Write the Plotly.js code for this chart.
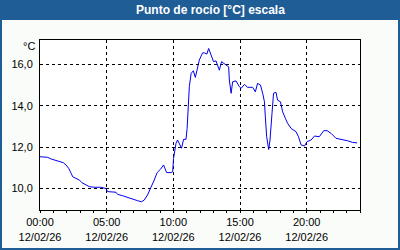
<!DOCTYPE html>
<html><head><meta charset="utf-8">
<script src="https://cdn.plot.ly/plotly-3.0.1.min.js"></script>
<style>html,body{margin:0;padding:0;background:#fafcfa;}#chart{width:400px;height:250px;}</style>
</head><body><div id="chart"></div>
<script>
const day = '2026-02-12';
const times = ['00:00','00:34','00:50','01:04','01:27','01:45','01:57','02:09','02:20','02:27','02:42','02:57','03:09','03:27','03:42','04:04','04:34','04:57','05:04','05:42','05:49','06:12','06:34','06:57','07:19','07:37','07:49','08:04','08:19','08:34','08:47','09:02','09:16','09:30','09:49','09:57','10:01','10:12','10:19','10:27','10:37','10:46','10:57','11:02','11:07','11:12','11:20','11:30','11:39','11:49','11:57','12:07','12:12','12:19','12:31','12:39','12:49','13:01','13:12','13:19','13:27','13:37','13:49','14:09','14:12','14:20','14:27','14:42','14:57','15:05','15:20','15:34','15:57','16:09','16:19','16:32','16:42','16:50','16:54','17:00','17:09','17:15','17:24','17:31','17:42','17:49','18:02','18:12','18:24','18:34','18:50','19:12','19:23','19:35','19:50','20:02','20:20','20:35','20:57','21:17','21:32','21:50','22:12','22:42','23:05','23:27','23:47'];
const dewPoint = [11.53,11.50,11.42,11.38,11.29,11.24,11.13,10.97,10.73,10.56,10.48,10.40,10.27,10.16,10.08,10.05,10.05,9.99,9.84,9.81,9.71,9.64,9.55,9.48,9.40,9.35,9.43,9.68,10.00,10.40,10.76,10.92,11.13,10.76,10.76,10.80,11.45,12.18,12.34,12.18,11.94,12.37,12.37,12.90,14.19,14.92,15.56,15.69,15.37,15.88,16.21,16.45,16.56,16.56,16.50,16.77,16.45,16.13,16.17,15.97,15.72,16.13,16.05,15.88,15.24,14.60,15.16,15.20,14.92,14.84,15.03,14.89,14.89,14.67,15.08,15.00,14.60,14.19,13.46,12.50,11.88,12.34,13.63,14.60,14.65,14.27,14.19,13.70,13.39,13.15,12.90,12.74,12.50,12.10,12.05,12.26,12.34,12.53,12.50,12.79,12.79,12.66,12.42,12.37,12.30,12.22,12.20];
const yTicks = [10, 12, 14, 16];
const titleText = 'Punto de rocío [°C] escala';
const unitText = '°C';

const xs = times.map(t => day + ' ' + t);
const font = 'Liberation Sans, Arial, sans-serif';
const blue = '#1f5d96';
const px = v => (v - 40) / 320;
const py = v => (210 - v) / 170;

Plotly.newPlot('chart', [{
  x: xs, y: dewPoint, type: 'scatter', mode: 'lines',
  line: {color: '#0000ee', width: 1}, hoverinfo: 'skip'
}], {
  width: 400, height: 250,
  margin: {l: 40, r: 40, t: 40, b: 40, pad: 0},
  paper_bgcolor: '#fafcfa', plot_bgcolor: '#ffffff',
  separators: ',.',
  showlegend: false,
  font: {family: font, size: 11, color: '#000000'},
  xaxis: {
    type: 'date', range: ['2026-02-12 00:00', '2026-02-13 00:00'],
    dtick: 5 * 3600000, tick0: '2026-02-12 00:00',
    tickformat: '%H:%M<br>%d/%m/%y',
    ticks: 'outside', ticklen: 2, tickcolor: '#000',
    showgrid: true, gridcolor: '#000', griddash: '3px,3px', gridwidth: 1,
    showline: true, linecolor: '#000', linewidth: 1, mirror: true,
    zeroline: false,
    minor: {dtick: 3600000, ticks: 'outside', ticklen: 2, tickcolor: '#000', showgrid: false},
    tickfont: {family: font, size: 11, color: '#000'}
  },
  yaxis: {
    range: [8.95, 17.18], tickvals: yTicks, tickformat: '.1f',
    ticks: '', showgrid: true, gridcolor: '#000', griddash: '3px,3px', gridwidth: 1,
    showline: true, linecolor: '#000', linewidth: 1, mirror: true,
    zeroline: false, ticklabelstandoff: 4,
    tickfont: {family: font, size: 11, color: '#000'}
  },
  shapes: [
    {type: 'rect', xref: 'paper', yref: 'paper', x0: px(0), x1: px(400), y0: py(20), y1: py(0),
     fillcolor: blue, line: {width: 0}, layer: 'above'},
    {type: 'rect', xref: 'paper', yref: 'paper', x0: px(1), x1: px(399), y0: py(249), y1: py(1),
     fillcolor: 'rgba(0,0,0,0)', line: {color: blue, width: 2}, layer: 'above'}
  ],
  annotations: [
    {text: '<b>' + titleText + '</b>', xref: 'paper', yref: 'paper', x: px(210), y: py(10),
     showarrow: false, xanchor: 'center', yanchor: 'middle',
     font: {family: font, size: 12, color: '#ffffff'}},
    {text: unitText, xref: 'paper', yref: 'paper', x: px(37), y: py(46),
     showarrow: false, xanchor: 'right', yanchor: 'middle',
     font: {family: font, size: 11, color: '#000'}}
  ]
}, {staticPlot: true, displayModeBar: false});
</script></body></html>
